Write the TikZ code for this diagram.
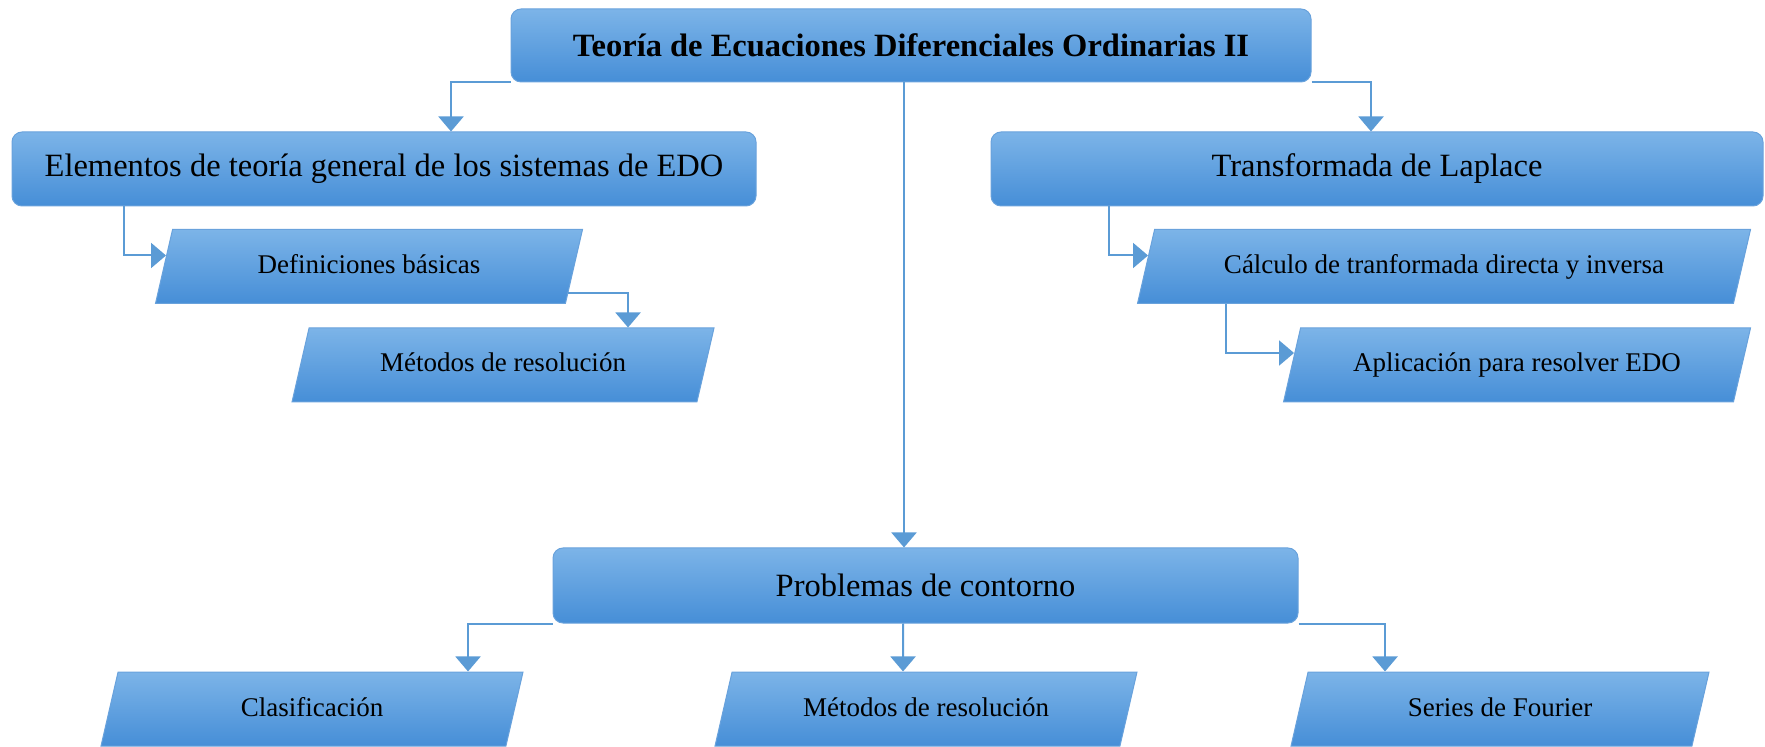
\documentclass[tikz,border=0pt]{standalone}
\usepackage{fontspec}
\setmainfont{Liberation Serif}
\usepackage{tikz}
\usetikzlibrary{arrows.meta}
\usetikzlibrary{shapes.geometric}
\usetikzlibrary{calc}
\definecolor{boxtop}{RGB}{124,180,232}
\definecolor{boxbot}{RGB}{70,142,215}
\definecolor{boxedge}{RGB}{105,162,220}
\definecolor{linkblue}{RGB}{91,155,213}

\begin{document}
\begin{tikzpicture}[x=0.5pt,y=-0.5pt,
	box/.style={draw=boxedge, line width=0.5pt, top color=boxtop, bottom color=boxbot, inner sep=0pt},
	topic/.style={box, rectangle, rounded corners=5pt, font=\fontsize{16.25}{19}\selectfont},
	sub/.style={box, trapezium, trapezium left angle=77, trapezium right angle=103, trapezium stretches body, text height=10pt, text depth=3pt, inner ysep=12pt, font=\fontsize{13.5}{16}\selectfont},
	link/.style={draw=linkblue, line width=1pt, -{Triangle[length=7.5pt,width=12.5pt]}}]
		\useasboundingbox (0,0) rectangle (1765,747);
		% main topics
		\node[topic, minimum width=400pt, minimum height=36.5pt] (title) at (911,45.5) {\textbf{Teoría de Ecuaciones Diferenciales Ordinarias II}};
		\node[topic, minimum width=372pt, minimum height=37pt] (elem) at (384,169) {Elementos de teoría general de los sistemas de EDO};
		\node[topic, minimum width=386pt, minimum height=37pt] (lapl) at (1377,169) {Transformada de Laplace};
		\node[topic, minimum width=372.5pt, minimum height=37.5pt] (probl) at (925.5,585.5) {Problemas de contorno};
		% subtopics
		\node[sub, minimum width=213.5pt] (defin) at (369,266.5) {Definiciones básicas};
		\node[sub, minimum width=211pt] (metodA) at (503,365) {Métodos de resolución};
		\node[sub, minimum width=306.5pt] (calcul) at (1444,266.5) {Cálculo de tranformada directa y inversa};
		\node[sub, minimum width=233.5pt] (aplic) at (1517,365) {Aplicación para resolver EDO};
		\node[sub, minimum width=211pt] (clasif) at (312,709) {Clasificación};
		\node[sub, minimum width=211pt] (metodB) at (926,709) {Métodos de resolución};
		\node[sub, minimum width=209pt] (series) at (1500,709) {Series de Fourier};
		% connectors
		\draw[link] (title.south west) -| ($(elem.north)+(67,0)$);
		\draw[link] (title.south east) -| ($(lapl.north)+(-6,0)$);
		\draw[link] ($(title.south)+(-7,0)$) -- ($(probl.north)+(-21.5,0)$);
		\draw[link] ($(elem.south)+(-260,0)$) |- ($(defin.west)+(2.5,-11)$);
		\draw[link] ($(defin.bottom right corner)+(2,-11)$) -| ($(metodA.north)+(125,0)$);
		\draw[link] ($(lapl.south)+(-268,0)$) |- ($(calcul.west)+(2.5,-11)$);
		\draw[link] ($(calcul.south)+(-218,0)$) |- ($(aplic.west)+(2.5,-12)$);
		\draw[link] (probl.south west) -| ($(clasif.north)+(156,0)$);
		\draw[link] ($(probl.south)+(-22.5,0)$) -- ($(metodB.north)+(-23,0)$);
		\draw[link] (probl.south east) -| ($(series.north)+(-115,0)$);
\end{tikzpicture}
\end{document}
